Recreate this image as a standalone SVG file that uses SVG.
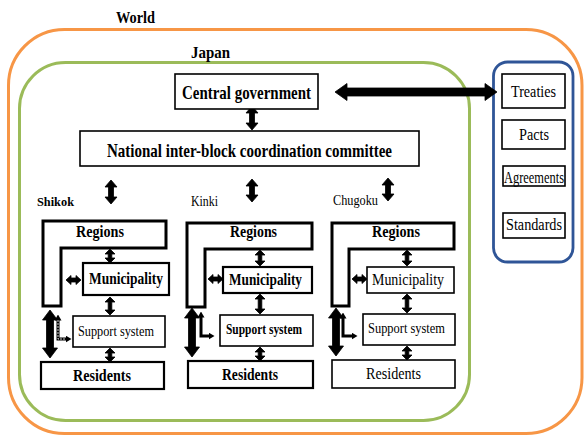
<svg xmlns="http://www.w3.org/2000/svg" width="584" height="436" viewBox="0 0 584 436">
<style>
text{font-family:"Liberation Serif","Times New Roman",serif;fill:#000}
.b{font-weight:bold}
.box{fill:#fff;stroke:#000;stroke-width:1.6}
.thk{fill:#fff;stroke:#000;stroke-width:2.2}
.reg{fill:#fff;stroke:#000;stroke-width:3;stroke-linejoin:miter}
.arr{fill:#000;stroke:#000;stroke-width:0.8;stroke-linejoin:round}
.la{fill:none;stroke:#000;stroke-width:3}
.li{fill:none;stroke:#fff;stroke-width:0.8;stroke-dasharray:2 1}
</style>
<defs>
<marker id="tip" viewBox="0 0 6 7" refX="0.5" refY="3.5" markerWidth="6" markerHeight="7" markerUnits="userSpaceOnUse" orient="auto-start-reverse">
<path d="M0,0 L6,3.5 L0,7 z" fill="#000"/>
</marker>
</defs>
<rect width="584" height="436" fill="#fff"/>
<g id="world">
<rect x="8.5" y="29.5" width="573.5" height="404" rx="56" fill="none" stroke="#F79646" stroke-width="3"/>
<text class="b" x="116" y="23" font-size="17" textLength="39" lengthAdjust="spacingAndGlyphs">World</text>
</g>
<g id="japan">
<rect x="19.5" y="62.5" width="450" height="358" rx="46" fill="none" stroke="#9BBB59" stroke-width="3"/>
<text class="b" x="191" y="58" font-size="17" textLength="39" lengthAdjust="spacingAndGlyphs">Japan</text>
</g>
<g id="international">
<rect x="493.5" y="62" width="79.5" height="200" rx="14" fill="none" stroke="#2F5597" stroke-width="2.8"/>
</g>
<g id="connectors">
<polygon class="arr" points="335,92 347,83.5 347,88 485,88 485,83.5 497,92 485,100.5 485,96 347,96 347,100.5"/>
<polygon class="arr" points="252,106 258,113 254.5,113 254.5,123 258,123 252,130 246,123 249.5,123 249.5,113 246,113"/>
<polygon class="arr" points="111,180 117,187 113.5,187 113.5,197 117,197 111,204 105,197 108.5,197 108.5,187 105,187"/>
<polygon class="arr" points="252,179 258,186 254.5,186 254.5,195 258,195 252,202 246,195 249.5,195 249.5,186 246,186"/>
<polygon class="arr" points="388,178 394,185 390.5,185 390.5,194 394,194 388,201 382,194 385.5,194 385.5,185 382,185"/>
<polygon class="arr" points="110,249 115,254 111.8,254 111.8,258 115,258 110,263 105,258 108.2,258 108.2,254 105,254"/>
<polygon class="arr" points="110,297 115,302 111.8,302 111.8,310 115,310 110,315 105,310 108.2,310 108.2,302 105,302"/>
<polygon class="arr" points="110,348 115,353 111.8,353 111.8,357 115,357 110,362 105,357 108.2,357 108.2,353 105,353"/>
<polygon class="arr" points="260,250 265,255 261.8,255 261.8,261 265,261 260,266 255,261 258.2,261 258.2,255 255,255"/>
<polygon class="arr" points="260,294 265,299 261.8,299 261.8,309 265,309 260,314 255,309 258.2,309 258.2,299 255,299"/>
<polygon class="arr" points="260,347 265,352 261.8,352 261.8,356 265,356 260,361 255,356 258.2,356 258.2,352 255,352"/>
<polygon class="arr" points="407,250 412,255 408.8,255 408.8,261 412,261 407,266 402,261 405.2,261 405.2,255 402,255"/>
<polygon class="arr" points="407,294 412,299 408.8,299 408.8,308 412,308 407,313 402,308 405.2,308 405.2,299 402,299"/>
<polygon class="arr" points="407,346 412,351 408.8,351 408.8,355 412,355 407,360 402,355 405.2,355 405.2,351 402,351"/>
<polygon class="arr" points="66,280 71,275.5 71,278 76,278 76,275.5 81,280 76,284.5 76,282 71,282 71,284.5"/>
<polygon class="arr" points="208,279 213,274.5 213,277 218,277 218,274.5 223,279 218,283.5 218,281 213,281 213,283.5"/>
<polygon class="arr" points="352,279 357,274.5 357,277 362,277 362,274.5 367,279 362,283.5 362,281 357,281 357,283.5"/>
<polygon class="arr" points="50,310 57.5,320 53.5,320 53.5,348 57.5,348 50,358 42.5,348 46.5,348 46.5,320 42.5,320"/>
<polygon class="arr" points="192,308 199.5,318 195.5,318 195.5,347 199.5,347 192,357 184.5,347 188.5,347 188.5,318 184.5,318"/>
<polygon class="arr" points="336,308 343.5,318 339.5,318 339.5,346 343.5,346 336,356 328.5,346 332.5,346 332.5,318 328.5,318"/>
<path class="la" d="M58,320 V339 H66" marker-start="url(#tip)" marker-end="url(#tip)"/>
<path class="li" d="M58,320 V339 H66"/>
<path class="la" d="M201,317 V336 H209" marker-start="url(#tip)" marker-end="url(#tip)"/>
<path class="la" d="M343,318 V336 H352" marker-start="url(#tip)" marker-end="url(#tip)"/>
</g>
<g id="central-government">
<rect class="box" x="175" y="74" width="143" height="35"/>
<text class="b" x="182" y="99" font-size="19" textLength="129" lengthAdjust="spacingAndGlyphs">Central government</text>
</g>
<g id="national-committee">
<rect class="box" x="80" y="131" width="339" height="35"/>
<text class="b" x="107" y="157" font-size="19" textLength="285" lengthAdjust="spacingAndGlyphs">National inter-block coordination committee</text>
</g>
<g id="treaties">
<rect class="box" x="502" y="74" width="63" height="34"/>
<text x="511" y="97" font-size="17" textLength="45" lengthAdjust="spacingAndGlyphs">Treaties</text>
</g>
<g id="pacts">
<rect class="box" x="502" y="120" width="63" height="29"/>
<text x="519" y="140" font-size="17" textLength="30" lengthAdjust="spacingAndGlyphs">Pacts</text>
</g>
<g id="agreements">
<rect class="box" x="503" y="166" width="62" height="20"/>
<text x="504" y="183" font-size="16" textLength="60" lengthAdjust="spacingAndGlyphs">Agreements</text>
</g>
<g id="standards">
<rect class="box" x="503" y="213" width="62" height="25"/>
<text x="506" y="230" font-size="16" textLength="56" lengthAdjust="spacingAndGlyphs">Standards</text>
</g>
<g id="shikok">
<text class="b" x="37" y="206" font-size="13" textLength="37" lengthAdjust="spacingAndGlyphs">Shikok</text>
<path class="reg" d="M43,221 H166 V248 H61 V306 H43 Z"/>
<text class="b" x="76" y="237" font-size="16" textLength="48" lengthAdjust="spacingAndGlyphs">Regions</text>
<rect class="thk" x="83" y="263" width="86" height="32"/>
<text class="b" x="89" y="284" font-size="16" textLength="74" lengthAdjust="spacingAndGlyphs">Municipality</text>
<rect class="box" x="73" y="316" width="92" height="31"/>
<text x="78" y="336" font-size="15" textLength="76" lengthAdjust="spacingAndGlyphs">Support system</text>
<rect class="thk" x="41" y="362" width="123" height="27"/>
<text class="b" x="73" y="381" font-size="16" textLength="58" lengthAdjust="spacingAndGlyphs">Residents</text>
</g>
<g id="kinki">
<text x="191" y="206" font-size="14" textLength="27" lengthAdjust="spacingAndGlyphs">Kinki</text>
<path class="reg" d="M187,223 H312 V249 H205 V307 H187 Z"/>
<text class="b" x="230" y="237" font-size="16" textLength="47" lengthAdjust="spacingAndGlyphs">Regions</text>
<rect class="thk" x="223" y="267" width="89" height="26"/>
<text class="b" x="229" y="285" font-size="16" textLength="73" lengthAdjust="spacingAndGlyphs">Municipality</text>
<rect class="box" x="220" y="315" width="93" height="31"/>
<text class="b" x="226" y="334" font-size="15" textLength="76" lengthAdjust="spacingAndGlyphs">Support system</text>
<rect class="thk" x="188" y="361" width="125" height="27"/>
<text class="b" x="222" y="380" font-size="16" textLength="56" lengthAdjust="spacingAndGlyphs">Residents</text>
</g>
<g id="chugoku">
<text x="333" y="205" font-size="14" textLength="45" lengthAdjust="spacingAndGlyphs">Chugoku</text>
<path class="reg" d="M332,223 H454 V249 H349 V306 H332 Z"/>
<text class="b" x="372" y="237" font-size="16" textLength="48" lengthAdjust="spacingAndGlyphs">Regions</text>
<rect class="box" x="367" y="267" width="87" height="26"/>
<text x="372" y="285" font-size="16" textLength="72" lengthAdjust="spacingAndGlyphs">Municipality</text>
<rect class="box" x="363" y="314" width="92" height="31"/>
<text x="368" y="333" font-size="15" textLength="77" lengthAdjust="spacingAndGlyphs">Support system</text>
<rect class="box" x="332" y="360" width="123" height="28"/>
<text x="366" y="379" font-size="16" textLength="55" lengthAdjust="spacingAndGlyphs">Residents</text>
</g>
</svg>
